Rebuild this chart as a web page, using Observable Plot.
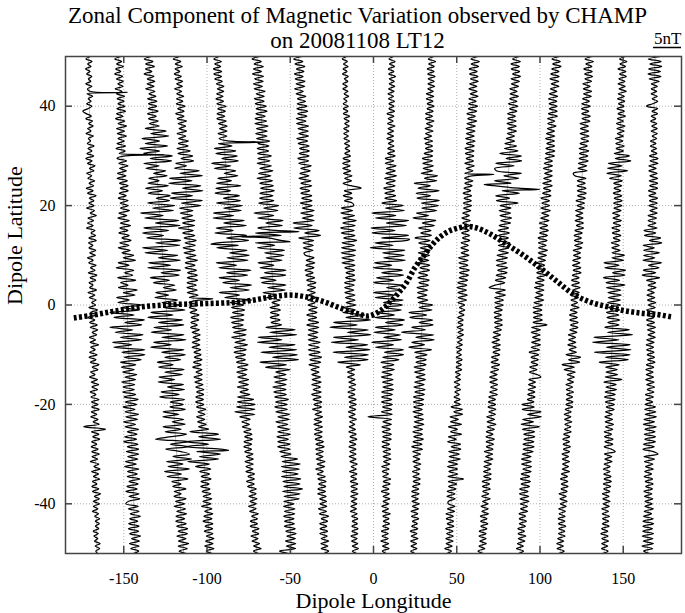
<!DOCTYPE html>
<html>
<head>
<meta charset="utf-8">
<script src="https://cdn.jsdelivr.net/npm/d3@7"></script>
<script src="https://cdn.jsdelivr.net/npm/@observablehq/plot@0.6"></script>
<style>
  html, body { margin: 0; padding: 0; background: white; }
</style>
</head>
<body>
<div id="chart"></div>
<script>
// ---- titles / labels ----
const titleLine1 = "Zonal Component of Magnetic Variation observed by CHAMP";
const titleLine2 = "on 20081108 LT12";
const scaleLabel = "5nT";
const xLabel = "Dipole Longitude";
const yLabel = "Dipole Latitude";

// ---- axes ----
const xTicks = [-150, -100, -50, 0, 50, 100, 150];
const yTicks = [-40, -20, 0, 20, 40];
const lonMin = -185, lonMax = 185;
const latMax = 50, latMin = -50;

// ---- scale: degrees of longitude per nT of deflection ----
const degPerNT = 3.36;
const scaleBarNT = 5;
const devUnit = 0.1; // deflection arrays are in units of 0.1 nT

// ---- orbit tracks: dipole longitude at lat 50 (top) and lat -50 (bottom) ----
const lonTop = [-171.1, -153.1, -135.1, -118.0, -94.0, -70.0, -45.0, -17.1, 11.0, 35.0, 61.0, 86.0, 110.0, 129.5, 149.9, 169.1];
const lonBot = [-166.1, -143.0, -114.0, -98.0, -70.0, -49.0, -28.9, -11.0, 7.0, 24.0, 45.0, 65.0, 88.0, 112.1, 138.5, 164.6];

// ---- zonal deflection (0.1 nT), every 0.5 deg from lat 50 down to -50 ----
const devA = [3,-5,6,-2,4,-6,2,-4,5,-1,3,-6,5,-3,1,-4,6,-2,3,-5,
4,-3,-12,-6,3,-7,5,-2,6,-4,2,-7,6,-3,1,-5,7,-4,3,-6,
6,-8,3,-5,8,-2,6,-7,2,-5,7,-3,5,-8,4,-6,9,-3,5,-4,
5,-8,6,-2,9,-6,4,-7,3,-9,6,-1,7,-5,8,-6,2,-5,7,-4,
6,-8,2,-6,7,-3,5,-7,8,-4,6,-6,1,-5,7,-8,4,-6,6,-2,
5,-7,8,-4,6,-9,3,-6,7,-5,8,-2,6,-7,4,-6,9,-5,3,-7,
6,-8,4,-6,9,-3,7,-6,2,-8,6,-5,8,-4,6,-7,3,-6,8,-5,
6,-5,8,-6,4,-7,6,-3,8,-20,19,-6,7,-4,8,-6,3,-7,5,-6,
7,-6,4,-9,6,-3,8,-7,5,-4,7,-6,2,-7,5,-6,8,-3,6,-5,
6,-5,3,-7,4,-3,6,-2,5,-2,4,-6,3,-5,2,-4,6,-3,5,-2,1];
const devB = [4,-7,5,-4,8,-6,3,-8,6,-5,7,-3,6,-8,4,-6,8,-5,7,-4,
8,-6,9,-7,4,-9,7,-5,10,-8,6,-7,9,-6,5,-8,7,-10,6,-5,
6,-9,8,-6,10,-5,7,-9,6,-10,8,-6,9,-5,9,-7,5,-9,8,-6,
8,-6,10,-9,5,-11,9,-7,11,-8,6,-10,8,-5,11,-9,7,-12,9,-6,
15,-4,18,-13,6,-17,14,-2,12,-15,17,-10,3,-14,19,-6,15,-18,4,-16,
26,-9,22,-31,12,-24,30,-5,25,-32,9,-23,27,-14,24,-28,6,-26,29,-12,
29,-8,22,-15,12,-14,9,-12,13,-8,11,-14,9,-12,8,-13,10,-11,14,-9,
11,-13,8,-10,14,-9,12,-13,8,-11,13,-7,10,-12,9,-14,11,-8,12,-10,
12,-8,10,-12,7,-14,11,-9,8,-10,12,-7,9,-11,7,-13,10,-8,11,-9,
-14,8,-10,9,-7,11,-8,6,-10,8,-11,7,-9,10,-6,8,-10,7,-8,6,-4];
const devC = [5,-8,7,-6,9,-7,4,-10,7,-5,8,-6,6,-9,7,-4,8,-7,9,-6,
8,-7,10,-9,6,-8,9,-7,10,-15,22,-6,26,-22,9,-17,23,-27,8,-21,
30,-10,28,-22,5,-19,16,-6,18,-15,3,-17,19,-22,8,-18,21,-4,19,-20,
28,-12,25,-34,6,-27,33,-9,35,-30,14,-33,4,-26,34,-11,32,-35,10,-31,
27,-8,31,-26,13,-28,30,-5,27,-25,9,-20,18,-3,20,-17,6,-19,21,-7,
26,-5,33,-28,11,-34,27,-16,29,-25,7,-30,28,-12,31,-27,4,-33,26,-14,
28,-9,19,-23,5,-21,24,-11,20,-22,6,-24,21,-8,22,-20,12,-23,21,-5,
18,-6,21,-19,9,-20,17,-4,19,-21,11,-18,20,-7,-36,22,-10,21,-19,8,
23,-7,26,-19,10,-17,21,-24,6,-20,17,-12,4,-11,12,-9,3,-10,11,-8,
8,-11,9,-7,10,-9,6,-10,8,-9,10,-7,9,-10,6,-8,10,-9,7,-8,5];
const devD = [5,-7,6,-4,8,-5,3,-7,5,-6,7,-4,6,-8,4,-5,7,-6,5,-7,
8,-5,6,-9,5,-7,9,-6,7,-5,8,-9,6,-7,10,-8,9,-11,12,-10,
16,-5,17,-15,4,-18,26,-9,31,-28,12,-30,27,-6,30,-26,11,-29,28,-10,
25,-14,10,-13,9,-11,12,-10,11,-18,8,-11,10,-9,12,-8,10,-12,9,-11,
10,-8,12,-10,7,-11,9,-7,10,-8,10,-9,7,-10,8,-10,9,-7,11,-8,
7,-8,5,-7,8,-6,7,-7,4,-8,7,-6,8,-5,7,-7,6,-8,7,-5,
7,-5,8,-7,6,-9,7,-4,7,-8,6,-7,7,-6,8,-5,7,-7,6,-8,
6,-7,9,-5,7,-8,6,-7,8,-6,12,-22,29,-7,32,-29,10,-31,30,-12,
30,-8,26,-29,9,-16,11,-9,8,-7,10,-8,6,-9,7,-7,8,-6,9,-7,
7,-10,8,-5,9,-7,7,-9,8,-6,7,-8,7,-5,8,-7,6,-9,7,-7,4];
const devE = [4,-6,7,-5,5,-8,6,-8,5,-7,6,-5,8,-4,7,-6,5,-8,5,-7,
9,-6,7,-8,5,-9,7,-7,8,-6,7,-9,6,-8,7,-10,14,-18,20,-16,
22,-6,23,-25,9,-21,17,-4,20,-16,8,-19,24,-21,5,-23,20,-9,21,-22,
24,-10,21,-29,7,-30,25,-12,28,-26,4,-29,27,-9,30,-25,11,-28,26,-6,
29,-11,26,-31,5,-27,30,-14,23,-28,8,-22,29,-10,24,-30,6,-21,27,-12,
12,-10,13,-9,11,-13,10,-12,8,-11,13,-10,12,-14,10,-9,13,-11,10,-12,
8,-10,7,-9,11,-8,9,-10,7,-9,10,-8,9,-11,8,-7,10,-12,16,-13,
18,-15,17,-19,16,-11,7,-8,5,-8,7,-6,8,-5,8,-7,6,-8,5,-7,
7,-5,7,-8,6,-7,5,-8,7,-5,6,-8,5,-7,8,-4,7,-6,8,-5,
6,-8,5,-7,8,-4,6,-7,5,-8,7,-5,6,-8,4,-7,6,-5,8,-6,3];
const devF = [5,-9,7,-6,10,-8,6,-10,9,-7,8,-10,6,-9,10,-6,8,-10,7,-9,
10,-8,11,-9,7,-11,9,-12,11,-10,9,-12,8,-11,12,-9,10,-11,9,-11,
13,-11,10,-13,12,-9,14,-12,10,-15,12,-11,13,-10,14,-12,11,-13,12,-15,
20,-7,18,-25,10,-19,26,-5,24,-20,12,-25,21,-3,19,-26,8,-23,25,-11,
23,-9,19,-24,4,-21,25,-14,24,-22,6,-20,23,-10,21,-19,5,-13,11,-4,
9,-8,10,-8,7,-9,8,-8,10,-18,34,-12,36,-33,9,-35,32,-15,34,-30,
35,-10,36,-33,14,-24,20,-6,12,-10,13,-9,11,-13,10,-12,10,-11,13,-10,
10,-12,10,-11,13,-8,12,-12,9,-10,11,-10,12,-12,8,-11,10,-12,10,-9,
11,-7,22,-6,26,-8,24,-7,21,-9,25,-7,23,-6,27,-9,22,-7,20,-8,
10,-9,11,-8,10,-10,8,-9,8,-10,9,-8,10,-7,8,-10,8,-9,7,-22,-6];
const devG = [6,-9,7,-7,10,-5,8,-9,6,-8,9,-7,8,-10,5,-8,9,-6,8,-7,
10,-8,11,-7,9,-10,7,-10,11,-8,10,-7,10,-11,8,-9,10,-7,10,-8,
9,-11,8,-10,12,-7,10,-9,7,-11,10,-8,11,-10,7,-9,10,-8,10,-11,
10,-8,13,-11,11,-9,12,-26,8,-25,20,-6,22,-17,9,-10,8,-10,7,-9,
-7,8,-6,9,-7,7,-9,5,-8,7,-7,9,-6,8,-7,7,-5,8,-7,6,
-7,9,-6,8,-10,7,-8,10,-11,10,-9,8,-10,7,-10,11,-10,9,-11,10,
-10,12,-9,10,-11,7,-8,6,-7,8,-7,9,-8,7,-6,8,-9,7,-7,8,
-6,7,-9,7,-5,8,-7,6,-8,7,-7,6,-8,5,-7,7,-6,8,-7,6,
-7,5,-7,8,-6,7,-9,4,-7,7,-6,8,-5,7,-7,6,-8,7,-5,7,
-5,7,-8,6,-7,9,-4,7,-7,5,-7,6,-8,5,-6,7,-7,5,-7,6,-3];
const devH = [3,-5,4,-3,5,-4,3,-5,5,-2,4,-5,3,-5,4,-3,5,-4,2,-5,
4,-5,3,-5,6,-4,5,-3,5,-5,4,-5,3,-5,5,-4,5,-3,5,-4,
6,-7,5,-8,5,-8,6,-7,8,-5,7,-8,6,24,-6,7,-8,8,-6,8,
10,-12,8,-13,11,-10,14,-10,12,-14,10,-13,11,-9,14,-12,10,-13,12,-14,
11,-13,9,-13,10,-8,9,-6,9,-7,10,-9,8,-9,7,-9,9,-8,9,-7,
10,-12,9,-13,26,-8,36,-30,12,-37,32,-6,36,-31,14,-35,30,-9,34,-32,
31,-12,30,-24,16,-9,6,-7,5,-7,6,-5,7,-5,6,-7,5,-6,7,-5,
7,-5,6,-7,5,-6,7,-5,4,-6,5,-7,6,-5,7,-6,5,-7,5,-6,
5,-7,5,-6,7,-4,5,-7,6,-5,5,-6,7,-5,6,-5,7,-6,5,-5,
5,-6,4,-7,5,-5,6,-4,5,-5,6,-5,5,-7,4,-6,5,-5,6,-5,3];
const devI = [3,-5,6,-4,5,-6,4,-5,7,-4,5,-4,6,-5,5,-6,4,-5,6,-4,
5,-4,6,-7,5,-5,4,-6,7,-5,5,-6,5,-7,5,-4,6,-5,7,-5,
8,-9,6,-9,10,-7,9,-8,11,-10,9,-7,9,-11,8,-9,10,-9,12,-14,
24,-8,26,-32,11,-25,34,-6,30,-33,10,-31,34,-14,32,-26,7,-34,28,-12,
27,-10,29,-26,5,-28,24,-13,26,-22,9,-27,25,-4,23,-27,12,-24,26,-9,
25,-7,23,-20,11,-24,29,-5,26,-23,13,-25,22,-8,24,-29,10,-22,28,-6,
28,-9,20,-12,11,-9,12,-10,8,-11,10,-9,10,-8,11,-10,9,-10,8,-10,
9,-8,8,-10,9,-34,8,-7,8,-9,6,-8,8,-7,8,-8,5,-8,7,-6,
7,-6,8,-5,6,-8,5,-7,4,-6,8,-5,7,-6,5,-8,6,-5,7,-5,
5,-7,5,-6,8,-5,6,-4,7,-5,6,-7,5,-6,5,-8,6,-5,7,-5,2];
const devJ = [4,-6,7,-5,5,-7,5,-6,7,-5,6,-5,7,-5,5,-7,6,-7,5,-5,
7,-5,6,-7,5,-7,8,-5,6,-7,7,-6,5,-8,7,-6,7,-5,8,-7,
8,-10,8,-9,10,-8,9,-11,18,-5,17,-23,6,-16,22,-19,7,-17,23,-9,
22,-8,19,-17,5,-23,18,-6,16,-12,10,-8,11,-18,9,-11,11,-8,10,-11,
9,-10,8,-11,10,-7,10,-9,7,-10,10,-8,9,-11,8,-10,7,-10,9,-8,
18,-6,17,-24,8,-22,19,-5,20,-18,7,-36,22,-10,23,-17,6,-22,19,-11,
11,-9,10,-8,10,-11,8,-10,9,-7,10,-9,8,-10,10,-8,9,-10,8,-10,
8,-9,6,-10,8,-8,9,-7,10,-8,8,-9,8,-7,10,-8,8,-10,9,-8,
6,-7,5,-7,7,-5,6,-7,5,-6,7,-5,7,-6,5,-7,6,-7,5,-6,
7,-5,6,-7,5,-6,7,-4,5,-5,6,-7,5,-5,7,-6,5,-5,6,-5,3];
const devK = [5,-7,8,-6,7,-9,5,-8,7,-6,8,-7,6,-8,7,-5,9,-7,6,-7,
9,-7,8,-9,6,-7,9,-8,7,-9,7,-8,6,-9,8,-7,7,-9,7,-8,
7,-6,7,-8,9,-5,7,-7,6,-7,8,-6,7,-7,5,-8,7,-6,7,-7,
8,-6,7,-7,5,-8,7,-6,7,-7,6,-7,7,-5,8,-7,6,-7,7,-6,
8,-10,7,-9,7,-8,10,-7,9,-7,8,-9,7,-10,7,-8,9,-7,8,-7,
5,-4,6,-4,5,-6,4,-5,4,-6,5,-4,6,-5,4,-4,5,-6,4,-4,
4,-5,6,-4,5,-4,6,-5,4,-4,5,-6,4,-5,6,-4,4,-5,6,-4,
7,-9,11,-4,12,-10,5,-9,11,-12,4,-8,12,-11,3,-12,11,-5,12,-9,
10,-8,12,-9,8,-10,8,-7,9,-8,20,-7,8,-6,7,-8,6,-8,7,-5,
-5,7,-6,7,-8,5,-7,6,-5,7,-7,6,-5,7,-6,7,-5,6,-7,5,-3];
const devL = [5,-7,7,-9,6,-8,7,-5,9,-7,8,-6,7,-8,5,-7,8,-7,6,-9,
8,-6,7,-9,5,-8,7,-9,8,-7,9,-7,6,-8,7,-10,11,-10,14,-18,
21,-6,22,-24,9,-25,-22,23,-8,19,-24,6,-25,20,-9,22,-20,5,-18,21,
-11,9,-12,9,-10,11,-8,10,-10,7,-11,9,-10,8,-10,11,-9,10,-8,10,
-10,9,-11,8,-10,10,-7,10,-9,8,-10,7,-10,-20,9,-8,10,-9,7,-8,
7,-7,6,-8,5,-7,7,-6,8,-5,7,-7,6,-7,5,-8,7,-6,7,-5,
7,-7,5,-7,8,-6,7,-7,5,-8,6,-7,7,-5,7,-6,8,-7,5,-7,
6,-7,7,-5,7,-8,6,-7,9,-6,7,-7,5,-7,8,-6,7,-5,7,-8,
7,-5,8,-7,6,-7,5,-7,7,-6,7,-8,5,-7,7,-6,5,-7,8,-5,
5,-7,6,-5,7,-7,5,-6,7,-5,6,-7,5,-7,6,-5,7,-6,5,-7,3];
const devM = [5,-8,7,-6,9,-7,6,-8,7,-9,7,-6,8,-7,5,-8,7,-9,6,-7,
7,-6,8,-7,9,-8,5,-7,8,-7,6,-8,7,-9,7,-6,8,-7,9,-7,
9,-7,6,-8,7,-9,7,-6,8,-7,7,-8,9,-6,7,-7,8,-9,6,-7,
7,-8,9,-6,7,-7,8,-9,6,-7,8,-7,7,-9,7,-8,6,-7,9,-7,
8,-7,7,-9,6,-8,7,-7,9,-6,7,-8,7,-9,8,-6,7,-7,9,-8,
7,-9,7,-8,8,-7,9,-7,18,-9,7,-9,7,-6,8,-7,9,-7,8,-10,
7,-6,7,-5,7,-7,6,-7,7,14,-7,5,-7,6,-7,5,-7,6,-7,5,
-16,6,-15,19,-5,20,-13,7,-15,18,-12,10,-9,11,-8,10,-9,11,-8,10,
-9,7,-10,8,-9,9,-6,9,-8,7,-9,9,-7,8,-9,6,-9,8,-7,9,
-6,7,-5,8,-7,5,-6,7,-5,6,-7,5,-6,8,-5,7,-6,5,-7,6,-3];
const devN = [5,-7,8,-5,6,-8,7,-6,8,-5,7,-8,5,-7,8,-6,8,-7,5,-8,
7,-8,5,-7,8,-6,8,-9,6,-8,7,-8,8,-6,8,-7,6,-8,9,-7,
8,-7,9,-8,7,-8,8,-16,-13,7,-8,6,-8,8,-7,9,-6,8,-8,7,
-6,7,-8,5,-7,6,-8,7,-5,8,-7,6,-8,5,-7,8,-6,7,-8,5,
-7,6,-8,5,-8,7,-6,8,-7,5,-8,6,-7,8,-5,7,-8,6,-7,5,
-6,8,-7,5,-8,6,-7,8,-5,8,-6,7,-8,5,-7,6,-8,7,-5,8,
-10,16,-5,15,-16,6,-12,8,-6,7,-5,6,-7,5,-6,7,-5,6,-5,7,
-5,7,-6,5,-7,5,-6,7,-5,6,-5,7,-6,5,-7,5,-6,7,-5,6,
-7,5,-6,7,-5,6,-5,8,-6,5,-7,6,-5,7,-5,6,-8,5,-6,7,
-5,6,-7,5,-6,5,-7,5,-6,7,-5,6,-5,7,-6,5,-7,5,-6,7,-3];
const devO = [4,-6,7,-5,5,-8,6,-5,7,-6,5,-7,6,-5,8,-6,5,-7,6,-5,
5,-7,6,-5,8,-6,5,-7,8,-6,7,-5,6,-8,5,-7,8,-6,7,-9,
18,-7,21,-19,6,-20,16,-21,5,-16,7,-8,6,-7,5,-8,7,-6,8,-7,
8,-6,7,-8,5,-7,8,-6,7,-8,6,-7,8,-5,7,-8,6,-7,8,-6,
16,-6,15,-20,7,-18,19,-4,18,-20,9,-15,19,-14,12,-11,13,-10,12,-11,
12,-9,11,-12,10,-11,12,-9,11,-14,30,-9,36,-33,12,-35,32,-10,34,-31,
33,-11,30,-22,14,-10,11,-9,12,-10,20,-12,10,-8,11,-9,9,-10,9,-8,
8,-6,8,-7,5,-8,6,-7,8,-6,7,-8,5,-7,8,-6,8,-7,6,13,
-6,7,-5,8,-6,5,-7,5,-6,7,-5,8,-6,7,-5,6,-7,5,-6,7,
-5,6,-7,5,-6,7,-5,6,-5,7,-6,5,-7,6,-5,7,-5,6,-5,7,-3];
const devP = [10,-12,11,-9,12,-11,10,-12,11,-10,8,-6,5,-6,4,-6,5,-4,6,-3,
-14,6,-4,6,-5,3,-6,5,-4,6,-5,6,-3,5,-6,4,-6,5,-4,6,
-7,8,-6,8,-8,5,-8,7,-6,8,-7,8,-6,8,-8,5,-7,8,-6,8,
-7,8,-5,8,-8,7,-8,6,-8,8,-15,6,-14,15,-5,17,-16,4,-15,13,
-15,5,-16,17,-6,13,-15,7,-17,14,-9,7,-6,8,-7,5,-8,6,-7,8,
-5,7,-8,6,-7,5,-8,6,-7,8,-6,7,-5,8,-7,6,-8,5,-7,6,
-6,7,-5,8,-7,6,-8,5,-7,6,-8,7,-6,8,-5,7,-8,6,-7,5,
-8,10,-9,11,-8,12,-10,9,-11,12,-8,10,-9,11,-8,11,-10,9,-11,8,
16,-9,10,-8,7,-6,8,-7,5,-8,7,-6,8,-5,7,-8,6,-7,8,-6,
7,-6,9,-7,6,-8,9,-9,10,-9,8,-9,10,-10,9,-8,10,-10,9,-7,4];
const deviations = [devA, devB, devC, devD, devE, devF, devG, devH, devI, devJ, devK, devL, devM, devN, devO, devP];

// ---- sharp spikes between samples: [track index, latitude, nT] ----
const spikes = [[0, 42.75, 6.8], [1, 30.25, 7.5], [3, 1.25, 3.5], [3, -29.25, 4.5], [4, 32.75, 7.0], [4, 12.25, -3.8],
  [5, 14.75, 5.3], [5, 13.75, -5.2], [5, 12.75, 3.6], [8, 13.25, 3.6], [10, 26.25, 4.5], [11, 23.25, 5.8], [11, 24.25, -4.2]];

// ---- dip equator (dotted line) ----
const eqLon = [-180,-170,-160,-150,-140,-130,-120,-110,-100,-90,-80,-70,-60,-50,-40,-30,-20,-10,-3,4,10,15,20,25,30,35,40,45,50,56,62,70,80,90,100,110,120,130,140,150,160,170,179];
const eqLat = [-2.6,-2.1,-1.5,-0.9,-0.4,-0.1,0.1,0.2,0.3,0.4,0.6,1.1,1.7,2.0,1.6,0.7,-0.6,-1.7,-2.2,-1.2,0.6,2.4,4.6,7.6,9.8,12.0,13.7,14.8,15.4,15.8,15.5,14.3,12.2,10.0,7.5,4.8,2.2,0.6,-0.3,-1.1,-1.6,-1.9,-2.4];

// ---- build tables ----
const trackPoints = [];
deviations.forEach((dev, t) => {
  const step = (latMax - latMin) / (dev.length - 1);
  const pts = dev.map((v, i) => ({lat: latMax - i * step, v: v * devUnit}));
  spikes.filter(s => s[0] === t).forEach(s => pts.push({lat: s[1], v: s[2]}));
  pts.sort((a, b) => b.lat - a.lat);
  pts.forEach(p => {
    const f = (latMax - p.lat) / (latMax - latMin);
    trackPoints.push({track: t, lat: p.lat, lon: lonTop[t] + (lonBot[t] - lonTop[t]) * f + p.v * degPerNT});
  });
});
const tracks = lonTop.map((lt, i) => ({top: lt, bot: lonBot[i]}));
const equator = eqLon.map((lon, i) => ({lon, lat: eqLat[i]}));

const frameColor = "#444";
const fmt = d => String(d);

const chart = Plot.plot({
  width: 685,
  height: 613,
  marginLeft: 65,
  marginRight: 4,
  marginTop: 56,
  marginBottom: 60,
  style: {fontFamily: "'Liberation Serif', 'Times New Roman', serif", fontSize: "16px", background: "white", color: "black"},
  x: {domain: [lonMin, lonMax]},
  y: {domain: [latMin, latMax]},
  marks: [
    Plot.gridX(xTicks, {stroke: "#999", strokeOpacity: 1, strokeWidth: 0.8, strokeDasharray: "1,2"}),
    Plot.gridY(yTicks, {stroke: "#999", strokeOpacity: 1, strokeWidth: 0.8, strokeDasharray: "1,2"}),
    Plot.link(tracks, {x1: "top", y1: latMax, x2: "bot", y2: latMin, stroke: "#aaa", strokeWidth: 0.8}),
    Plot.line(trackPoints, {x: "lon", y: "lat", z: "track", stroke: "black", strokeWidth: 1.25, curve: "catmull-rom"}),
    Plot.line(equator, {x: "lon", y: "lat", stroke: "black", strokeWidth: 5.5, strokeDasharray: "3,2.3", strokeLinecap: "butt", curve: "catmull-rom"}),
    Plot.frame({stroke: frameColor, strokeWidth: 1.5}),
    Plot.tickX(xTicks, {x: d => d, insetTop: 490, stroke: frameColor, strokeWidth: 1.5}),
    Plot.tickX(xTicks, {x: d => d, insetBottom: 490, stroke: frameColor, strokeWidth: 1.5}),
    Plot.tickY(yTicks, {y: d => d, insetRight: 609, stroke: frameColor, strokeWidth: 1.5}),
    Plot.tickY(yTicks, {y: d => d, insetLeft: 609, stroke: frameColor, strokeWidth: 1.5}),
    Plot.axisX(xTicks, {anchor: "bottom", tickSize: 0, tickPadding: 19, fontSize: 16, tickFormat: fmt, label: null}),
    Plot.axisY(yTicks, {anchor: "left", tickSize: 0, tickPadding: 10, fontSize: 16, tickFormat: fmt, label: null}),
    Plot.text([xLabel], {text: d => d, frameAnchor: "bottom", dy: 54, lineAnchor: "bottom", fontSize: 22}),
    Plot.text([yLabel], {text: d => d, frameAnchor: "left", dx: -51, rotate: -90, lineAnchor: "middle", fontSize: 22}),
    Plot.text([titleLine1], {text: d => d, frameAnchor: "top", dx: -16, dy: -34, lineAnchor: "bottom", fontSize: 23}),
    Plot.text([titleLine2], {text: d => d, frameAnchor: "top", dx: -16, dy: -9, lineAnchor: "bottom", fontSize: 23}),
    Plot.text([scaleLabel], {text: d => d, frameAnchor: "top-right", textAnchor: "end", dy: -13, lineAnchor: "bottom", fontSize: 17}),
    Plot.ruleY([latMax], {y: d => d, x1: lonMax - scaleBarNT * degPerNT, x2: lonMax, dy: -9, stroke: "black", strokeWidth: 1.5})
  ]
});
document.getElementById("chart").appendChild(chart);
</script>
</body>
</html>
